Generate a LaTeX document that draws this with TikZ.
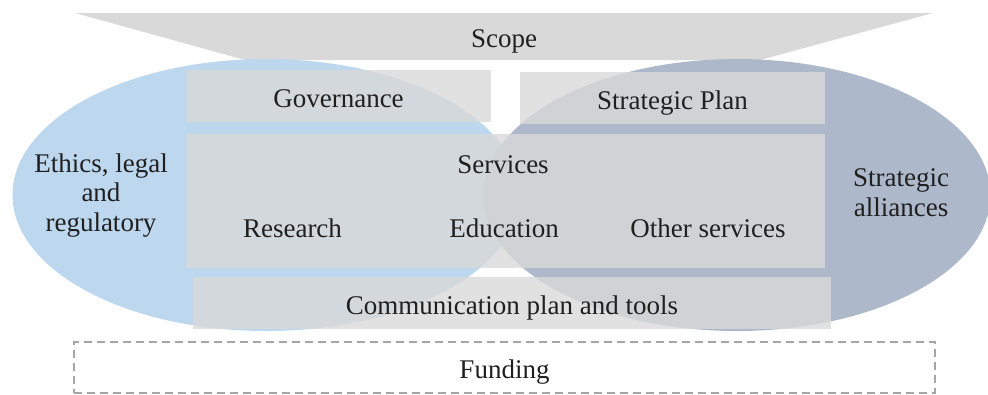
\documentclass[tikz,border=0pt]{standalone}
\usepackage{fontspec}
\setmainfont{Liberation Serif}
\usetikzlibrary{shapes.geometric}
\usepackage{xcolor}
\definecolor{ink}{HTML}{202020}
\definecolor{scopeFill}{HTML}{D9D9D9}
\definecolor{ethicsFill}{HTML}{BDD7EE}
\definecolor{allianceFill}{HTML}{ADB9CA}
\definecolor{panelFill}{HTML}{D9D9D9}
\definecolor{dashGrey}{HTML}{A6A6A6}
\tikzset{
  base/.style={font=\fontsize{27}{29.5}\selectfont, text=ink},
  word/.style={base, anchor=base, inner sep=0pt},
  side/.style={base, anchor=base, align=center, inner sep=0pt},
  lobe/.style={ellipse, draw=none, inner sep=0pt, minimum width=507pt, minimum height=272pt},
  panel/.style={base, rectangle, fill=panelFill, fill opacity=0.8, text opacity=1, inner sep=0pt, text height=22pt, text depth=0pt},
  funnel/.style={fill=scopeFill, draw=none},
  future/.style={base, rectangle, draw=dashGrey, line width=1.5pt, dash pattern=on 8pt off 5pt, inner sep=0pt, text height=22pt, text depth=0pt},
}

\begin{document}
\begin{tikzpicture}[x=1pt,y=-1pt]
  \useasboundingbox (0,0) rectangle (988,394);
  \clip (0,0) rectangle (988,394);

  % scope funnel across the top
  \draw[funnel] (75,13) -- (933,13) -- (760,60) -- (245,60) -- cycle;
  \node[word] (scope) at (504,47) {Scope};

  % the two side lobes (base of a multi-line node = its last line)
  \node[lobe, fill=ethicsFill] (ethics) at (266,195) {};
  \node[lobe, fill=allianceFill] (alliances) at (737,195) {};
  \node[side] (ethicsText) at (101,231) {Ethics, legal\\and\\regulatory};
  \node[side] (allianceText) at (901,216) {Strategic\\alliances};

  % panels over the lobes
  \node[panel, minimum width=305pt, minimum height=52pt] (gov) at (338.5,96) {Governance};
  \node[panel, minimum width=305pt, minimum height=52pt] (plan) at (672.5,98) {Strategic Plan};
  \node[panel, minimum width=639pt, minimum height=134pt] (services) at (505.5,201) {};
  \node[panel, minimum width=638pt, minimum height=52pt] (comm) at (512,303) {Communication plan and tools};

  \node[word] (servicesText) at (503,173) {Services};
  \node[word] (research) at (292.5,237) {Research};
  \node[word] (education) at (504,237) {Education};
  \node[word] (other) at (708,237) {Other services};

  \node[future, minimum width=861pt, minimum height=51pt] (funding) at (504.5,367.5) {Funding};
\end{tikzpicture}
\end{document}
